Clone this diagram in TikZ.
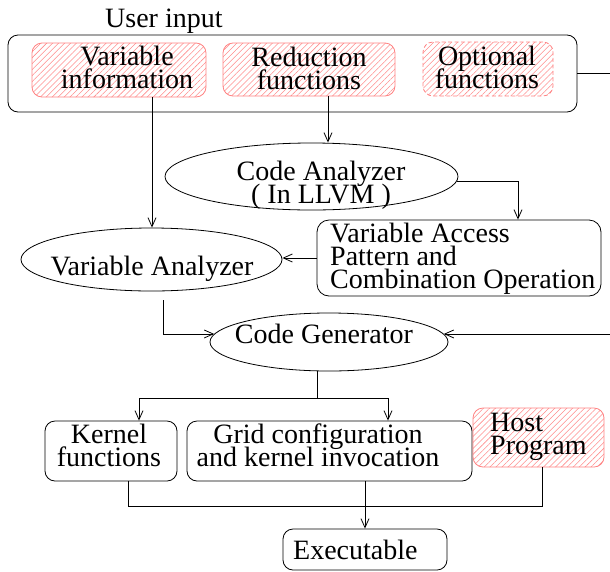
\documentclass[tikz,border=0pt]{standalone}
\usepackage{fontspec}
\setmainfont{Liberation Serif}
\usetikzlibrary{shapes.geometric,patterns.meta,arrows.meta}
\definecolor{hatchred}{RGB}{255,140,140}
\definecolor{edgered}{RGB}{255,130,130}
\newcommand{\diagfont}{\fontsize{28pt}{23pt}\selectfont\setlength{\lineskiplimit}{-100pt}\relax}
\tikzset{
  box/.style={draw, rounded corners=10pt, line width=0.8pt, inner sep=0pt},
  hatched/.style={draw=edgered, rounded corners=10pt, line width=0.8pt, inner sep=0pt,
    pattern={Lines[angle=45,distance=4.2pt,line width=0.55pt]}, pattern color=hatchred},
  oval/.style={ellipse, draw, line width=0.8pt, inner sep=0pt},
  txt/.style={inner sep=0pt, align=center, font=\diagfont},
  ltxt/.style={inner sep=0pt, align=left, font=\diagfont},
  arr/.style={-{Straight Barb[length=9pt,width=8pt]}, line width=0.8pt},
  wire/.style={line width=0.8pt}
}
\begin{document}
\begin{tikzpicture}[x=1pt,y=-1pt]
\useasboundingbox (0,0) rectangle (610,571);

% shapes
\node[box, minimum width=569pt, minimum height=77pt] (ui) at (292.5,73.5) {};
\node[hatched, minimum width=174pt, minimum height=54pt] (vi) at (119,70) {};
\node[hatched, minimum width=172pt, minimum height=53pt] (rd) at (309,69.5) {};
\node[hatched, dash pattern=on 4pt off 2.5pt, minimum width=130pt, minimum height=54pt] (op) at (488,69) {};
\node[oval, minimum width=293pt, minimum height=67pt] (ca) at (311.5,176.5) {};
\node[box, rounded corners=12pt, minimum width=284pt, minimum height=76pt] (vab) at (459,258) {};
\node[oval, minimum width=261pt, minimum height=63pt] (van) at (151.5,259.5) {};
\node[oval, minimum width=238pt, minimum height=58pt] (cg) at (329,342) {};
\node[box, minimum width=132pt, minimum height=60pt] (kf) at (111,451) {};
\node[box, minimum width=285pt, minimum height=60pt] (gr) at (329.5,451) {};
\node[hatched, minimum width=131pt, minimum height=59pt] (hp) at (538.5,437.5) {};
\node[box, minimum width=164pt, minimum height=41pt] (ex) at (365,549.5) {};

% texts
\node[txt, anchor=base west] (tui) at (105,27) {User input};
\node[txt, anchor=north] (tvi) at (127,46) {Variable\\information};
\node[txt, anchor=north] (trd) at (309,47) {Reduction\\functions};
\node[txt, anchor=north] (top) at (487,46) {Optional\\functions};
\node[txt, anchor=north] (tca) at (321,161) {Code Analyzer\\( In LLVM )};
\node[ltxt, anchor=north west] (tvab) at (330,223) {Variable Access\\Pattern and\\Combination Operation};
\node[txt, anchor=base] (tvan) at (152,275) {Variable Analyzer};
\node[txt, anchor=base] (tcg) at (324,343) {Code Generator};
\node[txt, anchor=north] (tkf) at (109,424) {Kernel\\functions};
\node[txt, anchor=north] (tgr) at (318,424) {Grid configuration\\and kernel invocation};
\node[ltxt, anchor=north west] (thp) at (490,412.5) {Host\\Program};
\node[txt, anchor=base west] (tex) at (293,559) {Executable};

% connector helper points
\coordinate (rt1) at (616,73.5);
\coordinate (vanout) at (163,300);
\coordinate (split) at (317,398);
\coordinate (busL) at (128,506);
\coordinate (busR) at (542,506);

% connectors
\draw[arr] ([xshift=33pt]vi.south) -- ([xshift=33pt]vi.south |- van.north);
\draw[arr] ([xshift=19pt]rd.south) -- ([xshift=19pt]rd.south |- ca.north);
\draw[arr] (ca.-2) -| ([xshift=59pt]vab.north);
\draw[arr] (vab.west) -- (vab.west -| van.east);
\draw[arr] (vanout) |- (cg.176);
\draw[arr] (ui.east) -- (rt1) |- (cg.4);
\draw[wire] (cg.south -| split) -- (split);
\draw[arr] (split) -| ([xshift=28pt]kf.north);
\draw[arr] (split) -| ([xshift=58.5pt]gr.north);
\draw[wire] (kf.south -| busL) -- (busL) -- (busR) -- (hp.south -| busR);
\draw[arr] (gr.south -| ex.north) -- (ex.north);
\end{tikzpicture}
\end{document}
